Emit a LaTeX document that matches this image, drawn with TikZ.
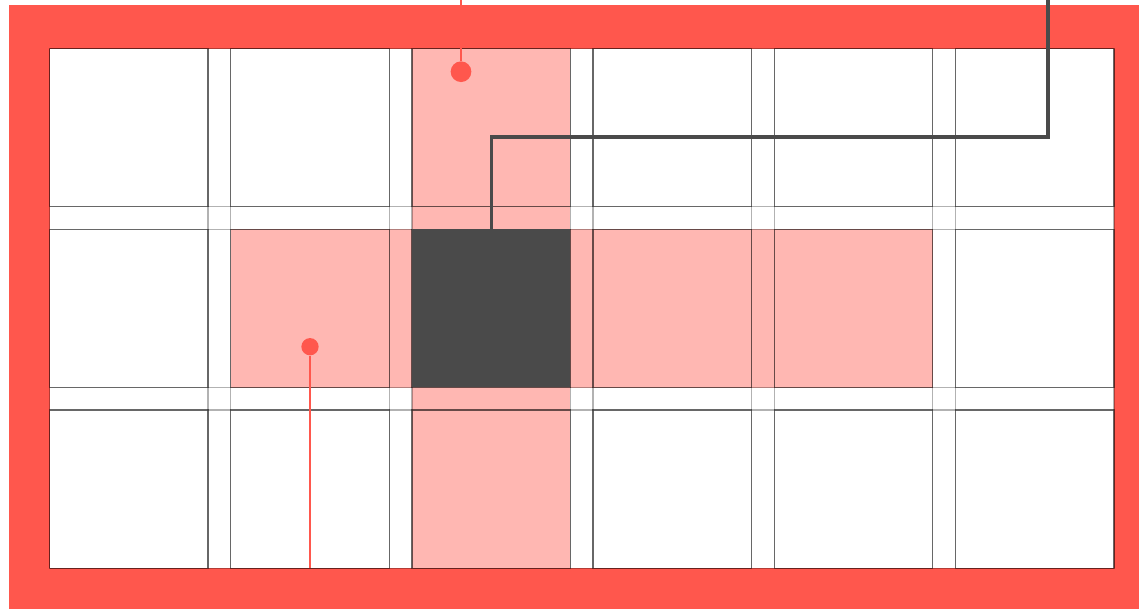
\documentclass[tikz,border=0pt]{standalone}
\usetikzlibrary{calc}
\definecolor{gridred}{RGB}{255,87,77}
\definecolor{gridpink}{RGB}{255,183,178}
\definecolor{griddark}{RGB}{74,74,74}
\tikzset{
  gframe/.style ={fill=gridred},
  gband/.style  ={fill=gridpink},
  gline/.style  ={draw=black, opacity=0.3,  line width=0.7pt},
  gcell/.style  ={draw=black, opacity=0.42, line width=0.7pt},
  gactive/.style={rectangle, fill=griddark, inner sep=0pt,
                  minimum width=3.17cm, minimum height=3.166cm},
  gpin/.style   ={circle, fill=gridred, inner sep=0pt},
  gpinline/.style={gridred, line width=1.6pt},
  gleader/.style={griddark, line width=1.8pt},
}
\begin{document}
\begin{tikzpicture}[x=0.02cm, y=-0.02cm]
  \useasboundingbox (0,0) rectangle (1139,609);
  % frame and page
  \fill[gframe] (9,5) rectangle (1139,609);
  \fill[white] (49.5,48.5) rectangle (1114,568.2);
  % highlighted column and row
  \fill[gband] (411.9,48.5) rectangle (570.4,568.2);
  \fill[gband] (230.7,229.2) rectangle (932.8,387.5);
  % grid
  \foreach \i in {0,...,5} {
    \draw[gline] ({49.5+\i*181.2},48.5) -- ++(0,519.7);
    \draw[gline] ({208+\i*181.2},48.5) -- ++(0,519.7);
  }
  \foreach \j in {0,1,2} {
    \draw[gline] (49.5,{48.5+\j*180.7}) -- ++(1064.5,0);
    \draw[gline] (49.5,{206.8+\j*180.7}) -- ++(1064.5,0);
  }
  \foreach \i in {0,...,5}
    \foreach \j in {0,1,2}
      \draw[gcell] ({49.5+\i*181.2},{48.5+\j*180.7}) rectangle +(158.5,158.3);
  \node[gactive] (active) at (491.15,308.35) {};
  % pins and leaders
  \coordinate (colTop) at (461,0);
  \coordinate (rowEnd) at (310,568);
  \coordinate (leadTop) at (1048,0);
  \coordinate (leadElbow) at (1048,137);
  \node[gpin, minimum size=0.414cm] (colPin) at (461,71.7) {};
  \node[gpin, minimum size=0.346cm] (rowPin) at (310,346.7) {};
  \draw[gpinline] (colTop) -- (colPin);
  \draw[gpinline, line width=1.3pt] (rowPin) -- (rowEnd);
  \draw[gleader] (leadTop) -- (leadElbow) -| (active.north);
\end{tikzpicture}
\end{document}
